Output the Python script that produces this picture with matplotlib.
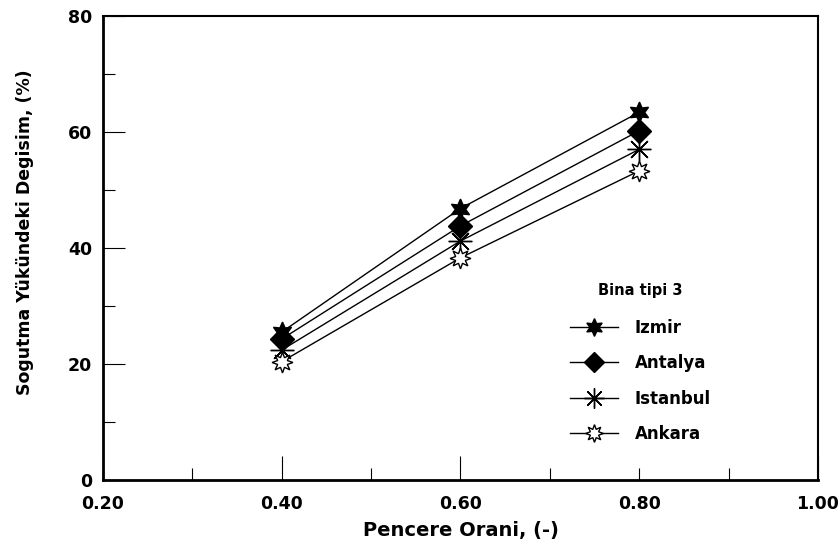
import matplotlib
matplotlib.use("Agg")
import matplotlib.pyplot as plt
from matplotlib.ticker import MultipleLocator, FormatStrFormatter

# data
pencere = [0.40, 0.60, 0.80]
izmir = [25.5, 46.8, 63.4]
antalya = [24.3, 43.8, 60.2]
istanbul = [22.4, 41.2, 57.0]
ankara = [20.4, 38.3, 53.3]
cities = ["Izmir", "Antalya", "Istanbul", "Ankara"]

plt.rcParams['font.family'] = ['DejaVu Sans']

fig = plt.figure(figsize=(8.38, 5.51), dpi=100)
ax = fig.add_axes([0.1229, 0.1289, 0.8532, 0.8422])

ax.plot(pencere, izmir, color='black', lw=1, marker=(6, 1, 0), ms=15,
        mfc='black', mec='black', label=cities[0])
ax.plot(pencere, antalya, color='black', lw=1, marker='D', ms=12,
        mfc='black', mec='black', label=cities[1])
ax.plot(pencere, istanbul, color='black', lw=1, marker=(8, 2, 0), ms=17,
        mec='black', mew=1, label=cities[2])
ax.plot(pencere, ankara, color='black', lw=1, marker=(8, 1, 0), ms=15,
        mfc='white', mec='black', mew=1, label=cities[3])

ax.set_xlim(0.2, 1.0)
ax.set_ylim(0, 80)
ax.xaxis.set_major_locator(MultipleLocator(0.2))
ax.xaxis.set_minor_locator(MultipleLocator(0.1))
ax.yaxis.set_major_locator(MultipleLocator(20))
ax.yaxis.set_minor_locator(MultipleLocator(10))
ax.xaxis.set_major_formatter(FormatStrFormatter('%.2f'))
ax.tick_params(which='major', direction='in', width=0.8, labelsize=12.5)
ax.tick_params(which='minor', direction='in', length=8.5, width=0.8)
ax.tick_params(axis='y', which='major', length=16, pad=8)
ax.tick_params(axis='x', which='major', length=17, pad=11)
for lbl in ax.get_xticklabels() + ax.get_yticklabels():
    lbl.set_fontweight('bold')

ax.spines['left'].set_linewidth(2)
ax.spines['bottom'].set_linewidth(2)
ax.spines['top'].set_linewidth(1.5)
ax.spines['right'].set_linewidth(1.5)

ax.set_xlabel('Pencere Orani, (-)', fontsize=14, fontweight='bold')
ax.xaxis.set_label_coords(0.5, -0.088)
ax.set_ylabel('Sogutma Yükündeki Degisim, (%)', fontsize=12.5, fontweight='bold')
ax.yaxis.set_label_coords(-0.097, 0.535)

leg = ax.legend(loc='upper left', bbox_to_anchor=(0.632, 0.457), frameon=False,
                title='Bina tipi 3', handlelength=2.9, handletextpad=1.0,
                labelspacing=1.05, markerscale=0.85,
                prop={'weight': 'bold', 'size': 12})
leg.get_title().set_fontweight('bold')
leg.get_title().set_fontsize(10.5)
leg._legend_box.sep = 15

# the 0.80 tick is short in the original
fig.canvas.draw()
for t in ax.xaxis.get_major_ticks():
    if abs(t.get_loc() - 0.8) < 1e-6:
        t.tick1line.set_markersize(8.5)

fig.savefig('out.png', dpi=100)
